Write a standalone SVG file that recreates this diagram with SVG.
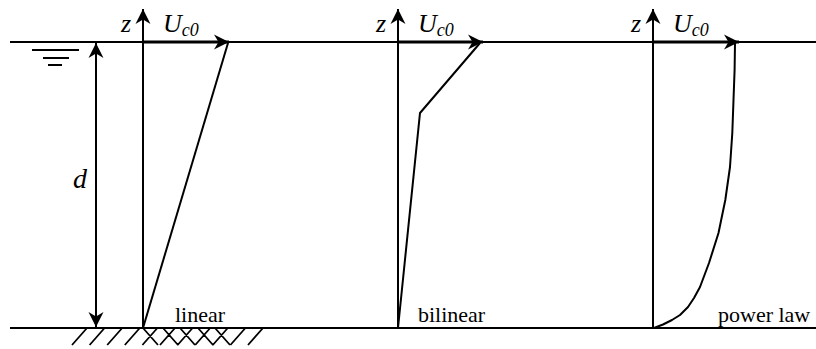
<svg xmlns="http://www.w3.org/2000/svg" width="816" height="349" viewBox="0 0 816 349">
<style>
.ln{stroke:#000;stroke-width:2;fill:none}
.u{stroke:#000;stroke-width:3.2;fill:none}
.h{stroke:#000;stroke-width:1.8;fill:none}
.t{font-family:"Liberation Serif",serif;fill:#000}
.i{font-family:"Liberation Serif",serif;font-style:italic;fill:#000}
</style>
<defs>
<marker id="ah" viewBox="-16 -8 17 16" refX="0" refY="0" markerWidth="17" markerHeight="16" markerUnits="userSpaceOnUse" orient="auto">
<path d="M0,0 L-15,-7.5 L-10.5,0 L-15,7.5 Z" fill="#000"/>
</marker>
</defs>
<rect width="816" height="349" fill="#fff"/>
<g id="ground">
<line class="ln" x1="10" y1="42" x2="816" y2="42"/>
<line class="ln" x1="10" y1="328" x2="816" y2="328"/>
<g id="water-symbol">
<line class="ln" x1="32" y1="50" x2="79" y2="50"/>
<line class="ln" x1="43" y1="58" x2="69" y2="58"/>
<line class="ln" x1="48" y1="65" x2="62" y2="65"/>
</g>
<g id="hatch">
<path class="h" d="M87,328 l-15,17 M104.6,328 l-15,17 M122.2,328 l-15,17 M139.8,328 l-15,17 M157.4,328 l-15,17 M175,328 l-15,17 M192.6,328 l-15,17 M210.2,328 l-15,17 M227.8,328 l-15,17 M245.4,328 l-15,17 M263,328 l-15,17 M143,328 l15,17 M163,328 l15,17 M180,328 l15,17 M198,328 l15,17 M215,328 l15,17"/>
</g>
</g>
<g id="connectors">
<line class="ln" x1="96" y1="185" x2="96" y2="43" marker-end="url(#ah)"/>
<line class="ln" x1="96" y1="185" x2="96" y2="327" marker-end="url(#ah)"/>
<line class="ln" x1="143" y1="328" x2="143" y2="9" marker-end="url(#ah)"/>
<line class="u" x1="143" y1="42" x2="229" y2="42" marker-end="url(#ah)"/>
<line class="ln" x1="398" y1="328" x2="398" y2="9" marker-end="url(#ah)"/>
<line class="u" x1="398" y1="42" x2="483" y2="42" marker-end="url(#ah)"/>
<line class="ln" x1="653" y1="328" x2="653" y2="9" marker-end="url(#ah)"/>
<line class="u" x1="653" y1="42" x2="739" y2="42" marker-end="url(#ah)"/>
</g>
<g id="depth-label">
<text class="i" x="73" y="188" font-size="28">d</text>
</g>
<g id="linear">
<text class="i" x="121" y="32" font-size="26">z</text>
<text class="i" x="163" y="32" font-size="26">U<tspan font-size="18" dy="4">c0</tspan></text>
<line class="ln" x1="228" y1="43" x2="143" y2="328"/>
<text class="t" x="175" y="322" font-size="22">linear</text>
</g>
<g id="bilinear">
<text class="i" x="376" y="32" font-size="26">z</text>
<text class="i" x="418" y="32" font-size="26">U<tspan font-size="18" dy="4">c0</tspan></text>
<polyline class="ln" points="480,43 420,113 398,328"/>
<text class="t" x="418" y="322" font-size="22">bilinear</text>
</g>
<g id="powerlaw">
<text class="i" x="631" y="32" font-size="26">z</text>
<text class="i" x="673" y="32" font-size="26">U<tspan font-size="18" dy="4">c0</tspan></text>
<polyline class="ln" stroke-linejoin="round" points="735,43 734.6,70 733.5,100 732.3,133 730,167 725.3,200 718.5,233 709,263 700,287 694,298 688,307 680,315 672,320 663,324.5 654,328"/>
<text class="t" x="718" y="322" font-size="22">power law</text>
</g>
</svg>
